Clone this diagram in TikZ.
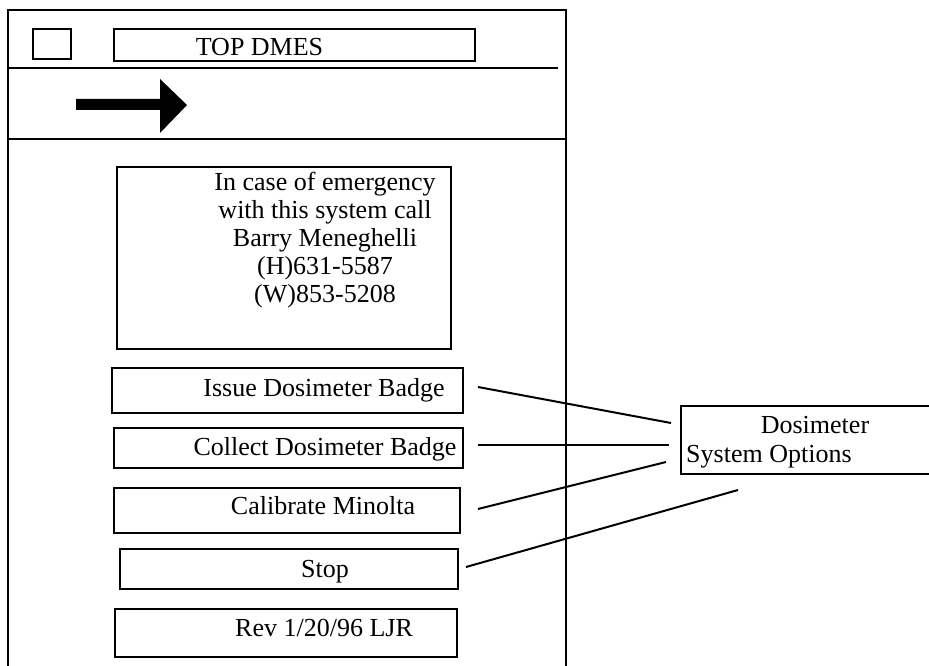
\documentclass[tikz,border=0pt]{standalone}
\usepackage{fontspec}
\setmainfont{Liberation Serif}
\begin{document}
\begin{tikzpicture}[x=1pt,y=-1pt,
  frame/.style={line width=1.9pt},
  box/.style={draw,line width=1.8pt,inner sep=0pt,anchor=north west},
  lbl/.style={anchor=base,inner sep=0pt,font=\fontsize{26}{28}\selectfont},
  link/.style={line width=2pt}]
\useasboundingbox (0,0) rectangle (929,666);
\clip (0,0) rectangle (929,666);
% outer window frame
\draw[frame] (8,690) -- (8,10) -- (566,10) -- (566,690);
\draw[frame] (8,68) -- (558,68);
\draw[frame] (8,139) -- (566,139);
% title bar
\node[box,minimum width=38pt,minimum height=30pt] (sq) at (32,28) {};
\node[box,minimum width=361pt,minimum height=32pt] (title) at (113,28) {};
\node[lbl] (titletxt) at (259.5,56) {TOP DMES};
% arrow
\fill (76,99) -- (160,99) -- (160,79) -- (187,105) -- (160,133) -- (160,110) -- (76,110) -- cycle;
% emergency box
\node[box,minimum width=334pt,minimum height=182pt] (emerg) at (116,166) {};
\foreach \t [count=\i] in {In case of emergency,with this system call,Barry Meneghelli,(H)631-5587,(W)853-5208}
  \node[lbl] (em\i) at (325,{190+28*(\i-1)}) {\t};
% buttons
\node[box,minimum width=351pt,minimum height=45pt] (issue) at (111,367) {};
\node[lbl] (issuetxt) at (324,396) {Issue Dosimeter Badge};
\node[box,minimum width=349pt,minimum height=40pt] (collect) at (113,427) {};
\node[lbl] (collecttxt) at (325,455) {Collect Dosimeter Badge};
\node[box,minimum width=346pt,minimum height=45pt] (calib) at (113,487) {};
\node[lbl] (calibtxt) at (323,514) {Calibrate Minolta};
\node[box,minimum width=338pt,minimum height=40pt] (stop) at (119,548) {};
\node[lbl] (stoptxt) at (325,577) {Stop};
\node[box,minimum width=342pt,minimum height=48pt] (rev) at (114,608) {};
\node[lbl] (revtxt) at (324,636) {Rev 1/20/96 LJR};
% options box
\node[box,minimum width=270pt,minimum height=68pt] (dso) at (680,405) {};
\node[lbl] (dsotxt1) at (815,433) {Dosimeter};
\node[lbl,anchor=base west] (dsotxt2) at (686,462) {System Options};
% connector ends
\coordinate (a1) at (478,387); \coordinate (b1) at (671,423);
\coordinate (a2) at (478,445); \coordinate (b2) at (669,445);
\coordinate (a3) at (478,509); \coordinate (b3) at (666,462);
\coordinate (a4) at (466,567); \coordinate (b4) at (738,490);
\draw[link] (a1) -- (b1);
\draw[link] (a2) -- (b2);
\draw[link] (a3) -- (b3);
\draw[link] (a4) -- (b4);
\end{tikzpicture}
\end{document}
